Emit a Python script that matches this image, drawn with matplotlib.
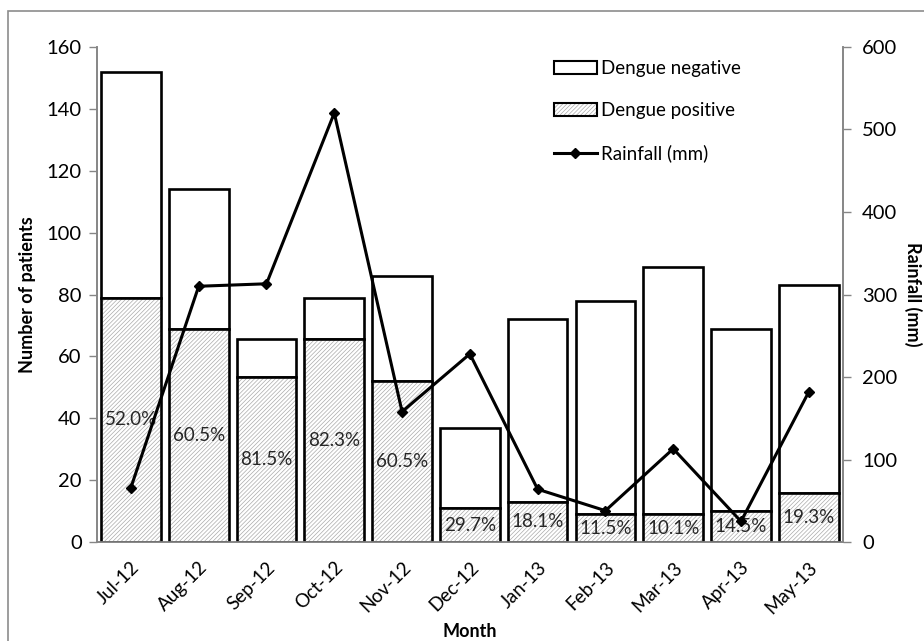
import matplotlib.pyplot as plt
from matplotlib.patches import Rectangle, Patch
from matplotlib.lines import Line2D
from matplotlib.legend_handler import HandlerTuple

plt.rcParams['font.family'] = ['Lato', 'DejaVu Sans']
plt.rcParams['hatch.linewidth'] = 0.5

months = ['Jul-12', 'Aug-12', 'Sep-12', 'Oct-12', 'Nov-12', 'Dec-12',
          'Jan-13', 'Feb-13', 'Mar-13', 'Apr-13', 'May-13']
total_patients = [152, 114, 65.5, 79, 86, 37, 72, 78, 89, 69, 83]
positive = [79, 69, 53.4, 65.5, 52, 11, 13, 9, 9, 10, 16]
pct_labels = ['52.0%', '60.5%', '81.5%', '82.3%', '60.5%', '29.7%',
              '18.1%', '11.5%', '10.1%', '14.5%', '19.3%']
rainfall = [66, 310, 313, 520, 158, 228, 64, 38, 113, 25, 182]

GRAY = '#868686'
HATCH_GRAY = '#aaaaaa'

fig = plt.figure(figsize=(9.24, 6.41), dpi=100)
ax = fig.add_axes([0.105, 0.1544, 0.807, 0.7723])
ax2 = ax.twinx()

x = list(range(len(months)))
width = 0.88
negative = [t - p for t, p in zip(total_patients, positive)]

ax.bar(x, negative, width, bottom=positive, color='white',
       edgecolor='black', linewidth=1.9, zorder=2)
ax.bar(x, positive, width, color='white', edgecolor=HATCH_GRAY,
       hatch='////////', linewidth=0, zorder=2)
ax.bar(x, positive, width, color='none', edgecolor='black',
       linewidth=1.9, zorder=3)

for xi, p, lab in zip(x, positive, pct_labels):
    ax.text(xi, p / 2, lab, ha='center', va='center', fontsize=13.5,
            color='#262626', zorder=4)

ax2.plot(x, rainfall, color='black', lw=2.2, marker='D', markersize=5,
         zorder=5)

ax.set_xlim(-0.5, len(months) - 0.5)
ax.set_ylim(0, 160)
ax.set_yticks(range(0, 161, 20))
ax2.set_ylim(0, 600)
ax2.set_yticks(range(0, 601, 100))

ax.set_xticks(x)
ax.set_xticklabels(months, rotation=45, ha='right', rotation_mode='anchor')
ax.tick_params(axis='x', length=0, labelsize=13.5, pad=12)
ax.tick_params(axis='y', labelsize=14.5, color=GRAY, length=6, width=1, pad=5)
ax2.tick_params(axis='y', labelsize=14.5, color=GRAY, length=6, width=1, pad=8)

for a in (ax, ax2):
    a.spines['top'].set_visible(False)
    for s in ('left', 'right', 'bottom'):
        a.spines[s].set_color(GRAY)
        a.spines[s].set_linewidth(1.2)

ax.set_ylabel('Number of patients', fontsize=13, fontweight='bold', labelpad=8)
ax2.set_ylabel('Rainfall (mm)', fontsize=13, fontweight='bold',
               rotation=270, labelpad=18)
ax.set_xlabel('Month', fontsize=13, fontweight='bold')
ax.xaxis.set_label_coords(0.5, -0.163)

# legend
h_neg = Patch(facecolor='white', edgecolor='black', linewidth=1.5)
h_pos = (Patch(facecolor='white', edgecolor=HATCH_GRAY, hatch='////////', linewidth=0),
         Patch(facecolor='none', edgecolor='black', linewidth=1.5))
h_rain = Line2D([], [], color='black', lw=2.2, marker='D', markersize=5)
ax2.legend([h_neg, h_pos, h_rain],
           ['Dengue negative', 'Dengue positive', 'Rainfall (mm)'],
           handler_map={tuple: HandlerTuple(ndivide=1)},
           loc='upper left', bbox_to_anchor=(0.595, 1.0), frameon=False,
           fontsize=13.5, handlelength=2.3, handletextpad=0.2,
           labelspacing=1.35, borderaxespad=0.3)

# outer chart border
fig.patches.append(Rectangle((8 / 924, -0.02), 1.2, 1.02 - 11 / 641,
                             transform=fig.transFigure, fill=False,
                             edgecolor='#8c8c8c', linewidth=1.2))

fig.savefig('out.png', dpi=100)
